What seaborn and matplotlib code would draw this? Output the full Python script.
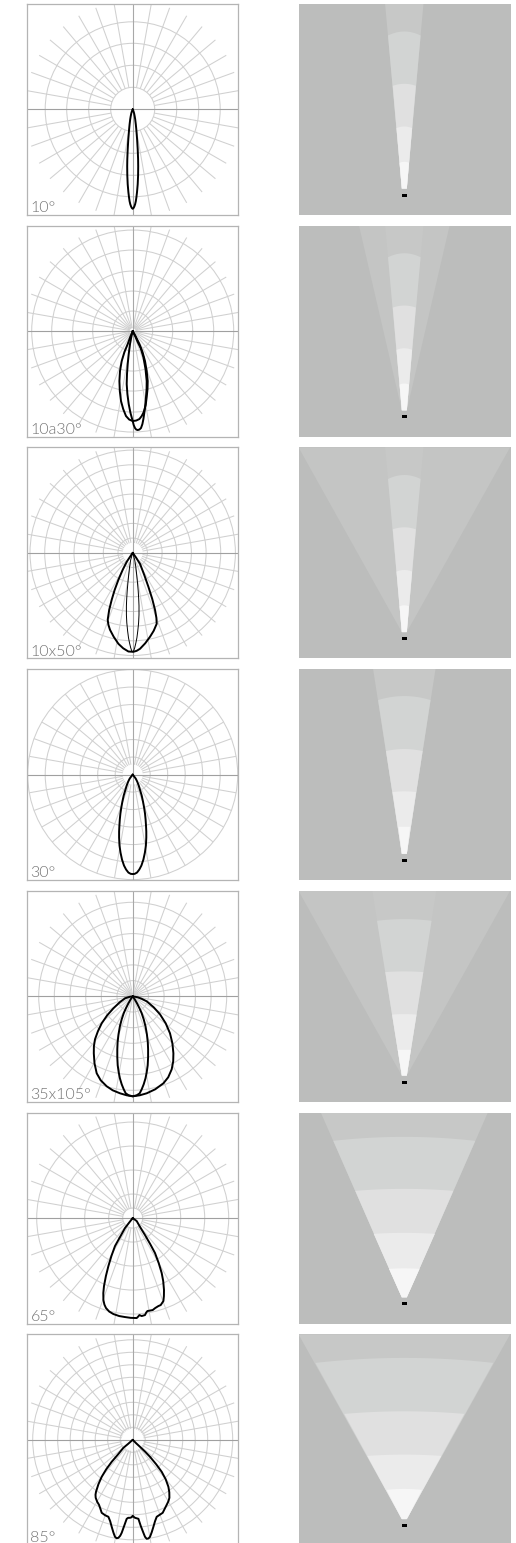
import numpy as np
import matplotlib
matplotlib.use("Agg")
import matplotlib.pyplot as plt
from matplotlib.patches import Circle, Rectangle
import seaborn as sns

W, H = 516, 1543
LABELS = ["10°", "10a30°", "10x50°", "30°", "35x105°", "65°", "85°"]

# Ring radii of each polar diagram (diagram units)
RINGS_1 = [22, 44, 66, 87.5]
RINGS_2 = [20, 40, 60, 81, 101]
RINGS_3 = [14.7, 29.4, 44, 58.7, 73.4, 88, 102.7]
RINGS_4 = [17.5, 35, 52.5, 70, 87.5, 105]
RINGS_5 = [15.7, 31.4, 47, 62.7, 78.4, 94]
RINGS_6 = [10, 24, 48, 72, 96]
RINGS_7 = [12.5, 25, 37.5, 50, 62.5, 75, 87.5, 100]
RAY_START = [22, 3, 10, 10, 2, 10, 11]
RAY_END = [108, 108, 108, 105, 108, 108, 108]

# Photometric curves: lateral offset and depth below the lamp.
# Symmetric beams list one half only (*_W), the other half is its mirror image.
C1_W = [0, .8, 1.4, 2, 2.5, 3.1, 3.6, 4.4, 5, 5.4, 5.5, 5.4, 5, 4.3, 3.7, 3.1, 2.4, 1.7, 1, 0]
C1_D = [0, 2, 4, 7, 10, 15, 20, 30, 40, 50, 57, 66, 75, 83, 88, 92, 95, 97, 98.5, 99.5]

C2A_X = [0, -2.5, -5, -8.3, -11, -12.7, -13.3, -12.9, -11.7, -9.5, -6.7, -3.5, 0, 3.5, 6.7, 9, 11, 13, 14, 14.8, 15,
         14, 12.3, 9.8, 6.7, 3, 0]
C2A_D = [0, 6, 13, 21, 30, 40, 50, 60, 70, 78, 85, 88.5, 90, 89.5, 88, 85, 81, 74, 66, 58, 50,
         40, 30, 21, 13, 5.5, 0]
C2B_X = [0, -1.4, -2.7, -4, -5, -5.7, -6, -5.3, -4, -2.2, 0, 1, 2.3, 3.5, 5, 6.7, 8.3, 9.7, 10.7, 12.3, 13.3, 13.9,
         14, 12.8, 10.7, 8, 5, 2.5, 0]
C2B_D = [0, 6, 13, 23, 33, 43, 53, 63, 73, 82, 90, 94, 97, 98.5, 99, 98.5, 97, 93, 88, 77, 66, 58,
         50, 38, 26, 17, 11, 5, 0]

C3A_X = [0, -3, -6, -10, -14.3, -18, -21, -23.5, -25, -24.3, -22.7, -19, -14.3, -9.5, -4.3, 0.7, 4, 7.3, 12.5,
         17.3, 21, 24, 23.7, 22.3, 19.5, 15.7, 11.5, 7.3, 3.5, 0]
C3A_D = [0, 4.5, 9, 17, 27, 37, 47, 57, 67, 72, 77, 84, 91, 95.5, 98.7, 99, 98, 96, 90.5,
         84, 78, 71, 65, 57, 46, 34, 22, 11, 5, 0]
C3B_W = [0, 2, 3.1, 4, 4.8, 5.5, 6, 6.3, 6.3, 5.9, 5.1, 4.2, 3.2, 2, 1, 0]
C3B_D = [0, 7, 14, 22, 30, 38, 46, 53, 62, 70, 78, 85, 90, 95, 98, 99]

C4_W = [0, 1.5, 3, 4.5, 6, 7.5, 9, 10.3, 11.4, 12.3, 12.9, 13.3, 13.6, 13.6, 13.2, 12.2, 10.7, 8.7, 6.6, 4.3, 2, 0]
C4_D = [0, 2, 4, 7, 11, 16, 21, 27, 33, 39, 45, 51, 57, 63, 71, 78, 85, 91, 95, 98, 99.3, 99.5]

C5A_X = [0, -3, -7.7, -13, -19.3, -25.5, -31, -34.8, -37.7, -38.8, -38.9, -38.2, -36, -32, -26, -20, -12.7, -6, 0,
         7, 14, 22.5, 30.7, 35.5, 39, 40.5, 40.7, 39.7, 37.3, 33, 27.3, 21, 14, 9, 5, 0]
C5A_D = [0, .5, 2, 6, 12, 19, 27, 35, 43, 50, 57, 67, 77, 84, 90, 94, 97, 99, 100,
         99, 97, 93, 87, 81, 73, 65, 57, 47, 37, 27, 18, 11, 5, 2.5, 1, 0]
C5B_W = [0, 2, 4.3, 6.8, 9, 11, 12.8, 14.2, 15.1, 15.4, 15.4, 15, 14, 12.8, 11, 9, 7, 4, 0]
C5B_D = [0, 3, 7, 12, 17, 23, 30, 38, 46, 53, 61, 69, 76, 82, 88, 93, 97, 99, 100]

C6_X = [0, -3.5, -7.7, -12.7, -17.7, -21.3, -24.3, -26.8, -28.7, -29.4, -29.3, -28.3, -26.7, -23.5, -19.3, -13.5,
        -7.7, -2, 4, 5.5, 6.7, 9, 12.3, 13.5, 14.7, 20, 22.5, 25.7, 28, 30.7, 31.2, 31.3, 30.5, 29, 26, 22.3,
        17.5, 12.3, 8, 4, 0]
C6_D = [0, 4.5, 10, 19, 28, 38, 48, 58, 68, 75, 82, 86.5, 90, 93.5, 96, 98,
        99, 99.8, 100, 98.5, 97, 98, 97, 94.5, 93, 92, 90, 88, 87, 83, 78, 72, 63, 55, 45, 35,
        26, 17, 10, 3, 0]

C7_X = [0, -4.5, -9.3, -15, -21, -26.5, -31, -34.3, -36.7, -37.2, -37, -35.5, -33.7, -32.3, -31, -27.5, -24.3,
        -22.5, -21, -19.2, -17.7, -16, -14.3, -12.5, -11, -8.5, -6, -4.5, -2.7, -1.2, 0, 1, 2.3, 5.7, 8, 10.7,
        12.3, 14, 15.7, 17.3, 19, 20.7, 22.3, 24, 27, 30, 32, 34, 35.7, 36.7, 36.6, 35.7, 33, 29, 23.5, 17.3,
        12.5, 7.3, 3.5, 0]
C7_D = [0, 4, 8, 15, 22, 29.5, 37, 44.5, 52, 55, 58, 62, 65, 69, 73, 75.5, 77,
        81.5, 87, 93, 97, 98.5, 98, 96, 93, 86, 79, 78, 78, 77.5, 76, 77, 78, 79, 86, 93,
        97, 99, 98.7, 97, 92.5, 87, 81.5, 77, 75, 73, 69, 65, 61.5, 58, 52.5, 47, 39.5, 32, 24.5, 17,
        12, 7, 3.5, 0]

# Beam renderings: distance from the lamp at band centre / edge, half-width at the edge
BAND_COLORS = ["#c7c8c7", "#d2d4d3", "#e0e0e0", "#ebebeb", "#f6f6f6"]
B1_CENTER = [191.3, 163.6, 111.3, 68.6, 33.3]
B1_EDGE = [191.3, 159.6, 109.3, 67, 32.3]
B1_HALF = [19.2, 16.3, 11.5, 7.8, 4.7]
B4_CENTER = [191.3, 164.3, 111.3, 69, 33.6]
B4_EDGE = [191.3, 160.3, 109.3, 68.3, 33.6]
B4_HALF = [31.2, 26.2, 18.3, 11.7, 5.8]
B5_CENTER = [191.3, 163, 110.7, 68, 32.3]
B5_EDGE = [191.3, 161.3, 110, 67.5, 32.3]
B5_HALF = [32, 27.3, 19, 12.2, 6.5]
B6_CENTER = [191.3, 167, 115, 71, 35.5]
B6_EDGE = [191.3, 163, 113, 70, 35]
B6_HALF = [83.5, 71, 49, 30.6, 15.3]
B7_CENTER = [191.3, 167.7, 114.3, 71, 36.7]
B7_EDGE = [191.3, 162.7, 111.7, 69.7, 35.7]
B7_HALF = [105.8, 89, 60, 37, 17.7]
OUTER_HALF = [None, 45.3, 105.8, None, 105.8, None, None]


def mirrored(w, d):
    w, d = np.array(w, float), np.array(d, float)
    return np.r_[-w, w[::-1]], np.r_[d, d[::-1]]


LW = 1.4
DIAGRAMS = [
    (RINGS_1, [(*mirrored(C1_W, C1_D), LW)]),
    (RINGS_2, [(C2A_X, C2A_D, LW), (C2B_X, C2B_D, LW)]),
    (RINGS_3, [(*mirrored(C3B_W, C3B_D), 0.7), (C3A_X, C3A_D, LW)]),
    (RINGS_4, [(*mirrored(C4_W, C4_D), LW)]),
    (RINGS_5, [(C5A_X, C5A_D, LW), (*mirrored(C5B_W, C5B_D), LW)]),
    (RINGS_6, [(C6_X, C6_D, LW)]),
    (RINGS_7, [(C7_X, C7_D, LW)]),
]
BEAMS = [
    (B1_CENTER, B1_EDGE, B1_HALF), (B1_CENTER, B1_EDGE, B1_HALF), (B1_CENTER, B1_EDGE, B1_HALF),
    (B4_CENTER, B4_EDGE, B4_HALF), (B5_CENTER, B5_EDGE, B5_HALF),
    (B6_CENTER, B6_EDGE, B6_HALF), (B7_CENTER, B7_EDGE, B7_HALF),
]

sns.set_style("white")
plt.rcParams["font.family"] = ["Lato", "DejaVu Sans"]
fig = plt.figure(figsize=(W / 100, H / 100), dpi=100, facecolor="white")

PITCH = 221.75
TOP0 = 3.8
SIZE = 211


def axes_at(left, top, width=SIZE, height=SIZE):
    return fig.add_axes([left / W, 1 - (top + height) / H, width / W, height / H])


for i in range(7):
    top = TOP0 + i * PITCH

    # Polar diagram
    ax = axes_at(27, top)
    ax.set_xlim(-105.7, 105.3)
    ax.set_ylim(-105.5, 105.5)
    ax.set_xticks([])
    ax.set_yticks([])
    rings, curves = DIAGRAMS[i]
    for r in rings:
        ax.add_patch(Circle((0, 0), r, fill=False, ec="#d0d0d0", lw=0.75, zorder=1))
    for a in range(10, 360, 10):
        if a % 90 == 0:
            continue
        t = np.deg2rad(a)
        ax.plot([RAY_START[i] * np.cos(t), RAY_END[i] * np.cos(t)],
                [RAY_START[i] * np.sin(t), RAY_END[i] * np.sin(t)],
                color="#d0d0d0", lw=0.75, zorder=1, solid_capstyle="butt")
    ax.axhline(0, color="#a0a0a0", lw=0.8, zorder=2)
    ax.axvline(0, color="#a8a8a8", lw=0.8, zorder=2)
    for xs, ds, lw in curves:
        sns.lineplot(x=np.array(xs, float), y=-np.array(ds, float), sort=False, estimator=None,
                     color="black", linewidth=lw, ax=ax, legend=False, zorder=3)
    ax.set_xlabel("")
    ax.set_ylabel("")
    for s in ax.spines.values():
        s.set_visible(True)
        s.set_color("#b4b4b4")
        s.set_linewidth(0.9)
    ax.text(-102.2, -102.7, LABELS[i], fontsize=11.5, color="#747474", fontweight=300,
            ha="left", va="baseline", zorder=4)

    # Beam rendering
    bx = axes_at(299, top, width=212)
    bx.set_xlim(-105.3, 106.7)
    bx.set_ylim(-19.7, 191.3)
    bx.set_xticks([])
    bx.set_yticks([])
    bx.set_facecolor("#bcbdbc")
    for s in bx.spines.values():
        s.set_visible(False)
    start_d, start_hw = 6.5, 2.5
    if OUTER_HALF[i] is not None:
        bx.fill([-start_hw, -OUTER_HALF[i], OUTER_HALF[i], start_hw],
                [start_d, 191.3, 191.3, start_d], color="#c4c5c4", lw=0)
    center, edge, half = BEAMS[i]
    for col, c, e, h in zip(BAND_COLORS, center, edge, half):
        xs = np.linspace(-h, h, 41)
        ys = e + (c - e) * (1 - (xs / h) ** 2)
        bx.fill(np.r_[-start_hw, xs, start_hw], np.r_[start_d, ys, start_d], color=col, lw=0)
    bx.add_patch(Rectangle((-2.6, -1.5), 5.2, 3, fc="black", ec="none"))

fig.savefig("out.png", dpi=100)
